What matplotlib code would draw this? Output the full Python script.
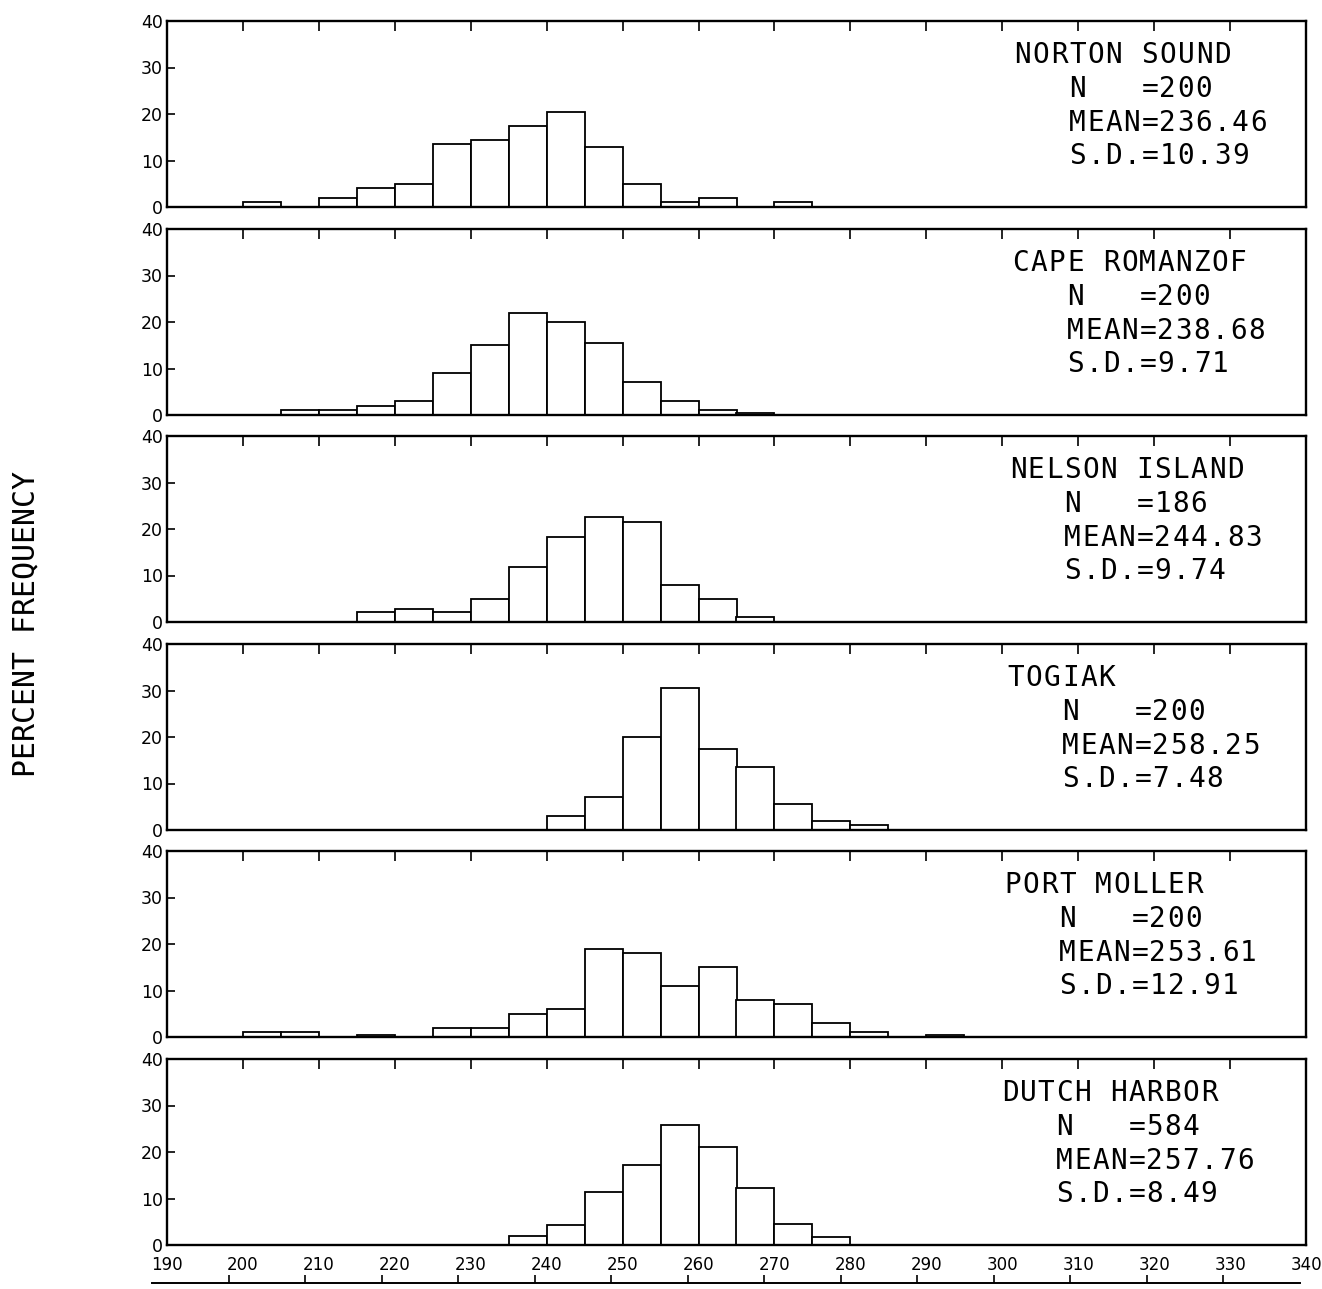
import matplotlib
matplotlib.use("Agg")
import matplotlib.pyplot as plt

# ---------------- data ----------------
stations = ["NORTON SOUND", "CAPE ROMANZOF", "NELSON ISLAND", "TOGIAK", "PORT MOLLER", "DUTCH HARBOR"]
n_values = ["200", "200", "186", "200", "200", "584"]
mean_values = ["236.46", "238.68", "244.83", "258.25", "253.61", "257.76"]
sd_values = ["10.39", "9.71", "9.74", "7.48", "12.91", "8.49"]

# lower edge of each 5-unit bin and percent frequency
norton_bins = [200, 210, 215, 220, 225, 230, 235, 240, 245, 250, 255, 260, 270]
norton_pct = [1, 2, 4, 5, 13.5, 14.5, 17.5, 20.5, 13, 5, 1, 2, 1]

cape_bins = [205, 210, 215, 220, 225, 230, 235, 240, 245, 250, 255, 260, 265]
cape_pct = [1, 1, 2, 3, 9, 15, 22, 20, 15.5, 7, 3, 1, 0.5]

nelson_bins = [215, 220, 225, 230, 235, 240, 245, 250, 255, 260, 265]
nelson_pct = [2.15, 2.69, 2.15, 4.84, 11.83, 18.28, 22.58, 21.51, 8.06, 4.84, 1.08]

togiak_bins = [240, 245, 250, 255, 260, 265, 270, 275, 280]
togiak_pct = [3, 7, 20, 30.5, 17.5, 13.5, 5.5, 2, 1]

moller_bins = [200, 205, 215, 225, 230, 235, 240, 245, 250, 255, 260, 265, 270, 275, 280, 290]
moller_pct = [1, 1, 0.5, 2, 2, 5, 6, 19, 18, 11, 15, 8, 7, 3, 1, 0.5]

dutch_bins = [235, 240, 245, 250, 255, 260, 265, 270, 275]
dutch_pct = [1.9, 4.3, 11.3, 17.1, 25.9, 21.1, 12.2, 4.5, 1.7]

all_bins = [norton_bins, cape_bins, nelson_bins, togiak_bins, moller_bins, dutch_bins]
all_pct = [norton_pct, cape_pct, nelson_pct, togiak_pct, moller_pct, dutch_pct]

x_ticks = [190, 200, 210, 220, 230, 240, 250, 260, 270, 280, 290, 300, 310, 320, 330, 340]
y_ticks = [0, 10, 20, 30, 40]
bin_width = 5

# ---------------- layout ----------------
W, H = 1322, 1289
fig = plt.figure(figsize=(W / 100, H / 100), dpi=100)
fig.patch.set_facecolor("white")

mono = "DejaVu Sans Mono"
panel_tops_px = [21, 229, 436, 644, 851, 1059]
panel_h_px = 186
left_px, right_px = 167, 1306
title_x_px = [1023, 1021, 1018, 1016, 1013, 1010]   # centre of first glyph
line_y_frac = [0.815, 0.632, 0.452, 0.272]
char_adv_px = 18.1
ann_size = 20


def mono_text(ax, x_px, y_frac, s):
    """plotter-style fixed pitch text: each glyph centred on its cell"""
    fig_w = fig.get_figwidth() * fig.dpi
    bbox = ax.get_position()
    x_frac = (x_px / fig_w - bbox.x0) / bbox.width
    for k, ch in enumerate(s):
        if ch == " ":
            continue
        ax.annotate(ch, xy=(x_frac, y_frac), xycoords="axes fraction",
                    xytext=(k * char_adv_px * 72 / fig.dpi, 0), textcoords="offset points",
                    ha="center", va="center", fontsize=ann_size, fontfamily=mono)


for i in range(6):
    top = panel_tops_px[i]
    ax = fig.add_axes([left_px / W, 1 - (top + panel_h_px) / H,
                       (right_px - left_px) / W, panel_h_px / H])
    ax.bar(all_bins[i], all_pct[i], width=bin_width, align="edge",
           facecolor="white", edgecolor="black", linewidth=1.3, zorder=2)
    ax.set_xlim(190, 340)
    ax.set_ylim(0, 40)
    ax.set_yticks(y_ticks)
    ax.set_yticklabels([str(v) for v in y_ticks])
    ax.set_xticks(x_ticks)
    ax.set_xticklabels([str(v) for v in x_ticks])
    ax.tick_params(axis="y", direction="in", length=6, width=1.2, pad=3, labelsize=12.5)
    ax.tick_params(axis="x", direction="in", length=7, width=1.2, top=True, bottom=False,
                   labeltop=False, labelbottom=(i == 5), pad=8, labelsize=12)
    for sp in ax.spines.values():
        sp.set_linewidth(1.7)

    tx = title_x_px[i]
    mono_text(ax, tx, line_y_frac[0], stations[i])
    mono_text(ax, tx + 3 * char_adv_px, line_y_frac[1], "N   =" + n_values[i])
    mono_text(ax, tx + 3 * char_adv_px, line_y_frac[2], "MEAN=" + mean_values[i])
    mono_text(ax, tx + 3 * char_adv_px, line_y_frac[3], "S.D.=" + sd_values[i])

# y label
fig.text(26 / W, 1 - 624 / H, "PERCENT FREQUENCY", rotation=90, va="center", ha="center",
         fontfamily=mono, fontsize=21.5)

# partial axis line visible at the bottom of the scanned page
axb = fig.add_axes([152 / W, 1 - 1284 / H, (1300 - 152) / W, 0.0005])
axb.set_xlim(190, 340)
axb.set_ylim(0, 1)
for name, sp in axb.spines.items():
    sp.set_visible(name == "top")
axb.spines["top"].set_linewidth(1.4)
axb.set_xticks(x_ticks[1:-1])
axb.tick_params(axis="x", top=True, bottom=False, direction="out", length=6, width=1.2,
                labeltop=False, labelbottom=False)
axb.set_yticks([])
axb.patch.set_alpha(0)

fig.savefig("out.png", dpi=100, facecolor="white")
